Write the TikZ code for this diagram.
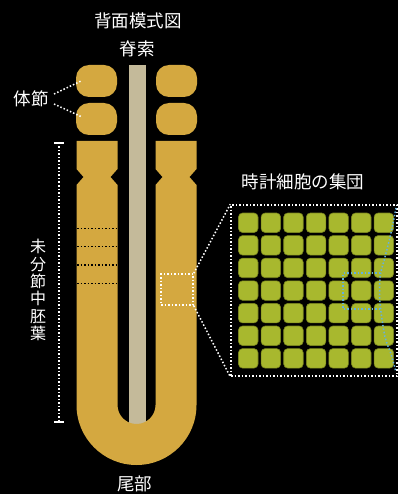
\documentclass[tikz,border=0pt]{standalone}
\usepackage{fontspec}
\newfontfamily\jp{Noto Sans CJK JP}
\definecolor{mesogold}{RGB}{212,168,64}
\definecolor{notocolor}{RGB}{196,186,154}
\definecolor{cellgreen}{RGB}{168,184,46}
\definecolor{celledge}{RGB}{120,132,30}
\definecolor{waveblue}{RGB}{100,178,222}
\begin{document}
\begin{tikzpicture}[x=1pt,y=-1pt,
  lbl/.style={text=white,inner sep=0pt,font=\jp\fontsize{17.5}{17.5}\selectfont},
  wdots/.style={draw=white,line width=1.5pt,dash pattern=on 1.5pt off 2pt},
  kdots/.style={draw=black,line width=1.5pt,dash pattern=on 1.5pt off 2pt},
  bdots/.style={draw=waveblue,line width=1.5pt,dash pattern=on 1.5pt off 2pt},
  somite/.style={fill=mesogold,rounded corners=13pt},
  cell/.style={fill=cellgreen,draw=celledge,line width=0.6pt,rounded corners=4pt},
  framebox/.style={wdots,inner sep=0pt,fill=none}]
\fill[black] (0,0) rectangle (398,494);
\useasboundingbox (0,0) rectangle (398,494);

% notochord
\fill[notocolor] (129,65) rectangle (145.5,430);

% somites
\fill[somite] (76,65) rectangle (117,97);
\fill[somite] (76,103) rectangle (117,135);
\fill[somite] (156,65) rectangle (197,97);
\fill[somite] (156,103) rectangle (197,135);

% presomitic mesoderm (U shape)
\fill[mesogold] (76.5,141) -- (76.5,169) -- (83.5,177) -- (76.5,185) -- (76.5,405)
  arc[start angle=180,end angle=360,radius=60pt]
  -- (196.5,185) -- (189.5,177) -- (196.5,169) -- (196.5,141)
  -- (155.5,141) -- (155.5,169) -- (162.5,177) -- (155.5,185) -- (155.5,405)
  arc[start angle=0,end angle=-180,radius=19pt]
  -- (117.5,185) -- (110.5,177) -- (117.5,169) -- (117.5,141) -- cycle;

% future segment borders
\foreach \yy in {228.5,246.5,265,283.5}
  \draw[kdots] (77,\yy) -- (118,\yy);

% labels
\node[lbl] (title) at (138,21) {背面模式図};
\node[lbl] (noto) at (137,49) {脊索};
\node[lbl] (tail) at (134.5,484) {尾部};
\node[lbl] (somlbl) at (31,99) {体節};
\node[lbl] (clock) at (303,182) {時計細胞の集団};
\node[lbl,align=center,font=\jp\fontsize{16}{17.3}\selectfont] (psm) at (38,290)
  {未\\分\\節\\中\\胚\\葉};

% pointers to somites
\coordinate (somA) at (81,81);
\coordinate (somB) at (82,117);
\draw[wdots] (54,94) -- (somA);
\draw[wdots] (54,104) -- (somB);

% extent bracket of the presomitic mesoderm
\coordinate (brtop) at (59,143);
\coordinate (brbot) at (59,422);
\draw[wdots] (brtop) -- (brbot);
\draw[white,line width=2pt] (54,143) -- (64,143);
\draw[white,line width=2pt] (54,422) -- (64,422);

% cells of the magnified region
\foreach \i in {0,...,6}
  \foreach \j in {0,...,6}
    \draw[cell] ({238.5+22.6*\i},{213+22.6*\j}) rectangle ++(19.5,19.5);

% magnification frames
\node[framebox,minimum width=32pt,minimum height=31pt] (src) at (177,289.5) {};
\node[framebox,minimum width=166pt,minimum height=171pt] (dst) at (314,290.5) {};
\draw[wdots] (src.north east) -- (dst.north west);
\draw[wdots] (src.south east) -- (dst.south west);

% oscillation wave front
\draw[bdots] (380,273) -- (343,273) -- (343,309) -- (380,309);
\draw[bdots] plot[smooth] coordinates {(396,208) (391,233) (385,257) (380.5,274) (379.5,291) (380.5,308) (385,337) (391,354) (396,372)};
\end{tikzpicture}
\end{document}
